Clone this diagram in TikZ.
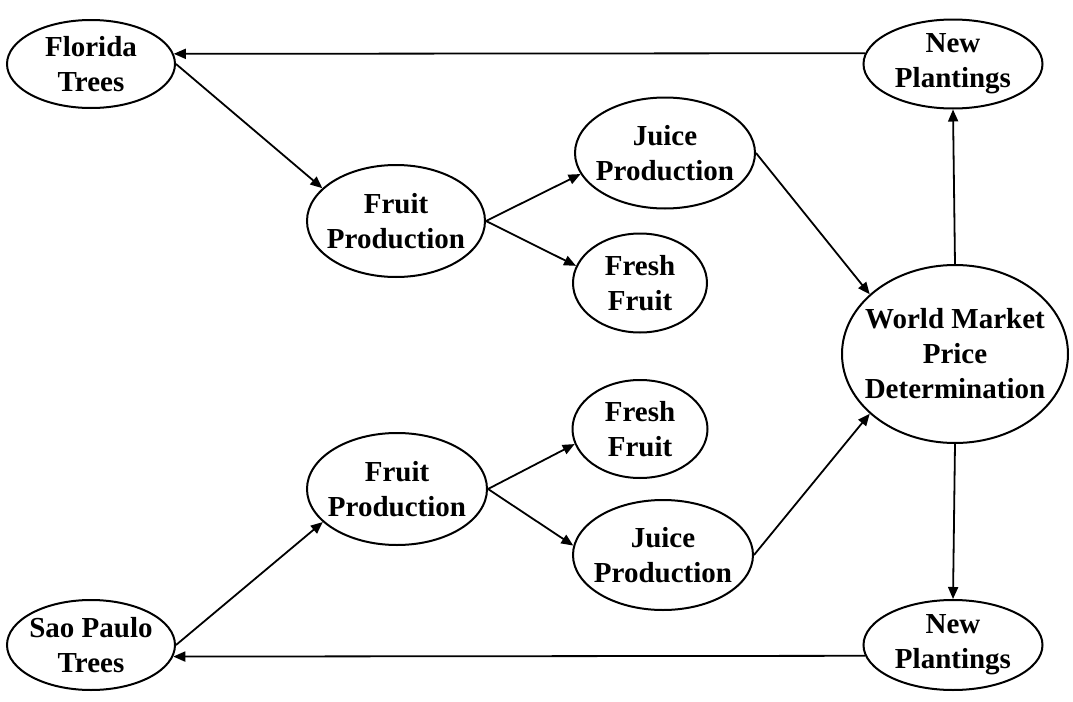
\documentclass[tikz,border=0pt]{standalone}
\usepackage{fontspec}
\setmainfont{Liberation Serif}
\usetikzlibrary{shapes.geometric,arrows.meta}
\begin{document}
\begin{tikzpicture}[x=0.5pt,y=-0.5pt,
  bub/.style={ellipse,draw,line width=1pt,inner sep=-80pt,align=center,
    font=\fontsize{14.5}{17.5}\selectfont\bfseries},
  arr/.style={line width=0.9pt,-{Triangle[length=6pt,width=5pt]}}]
\useasboundingbox (0,0) rectangle (1073,702);
\node[bub,minimum width=84pt,minimum height=44pt] (ft) at (91,64) {Florida\\Trees};
\node[bub,minimum width=89.5pt,minimum height=44.5pt] (np1) at (953,64) {New\\Plantings};
\node[bub,minimum width=89pt,minimum height=56pt] (fp1) at (396,221) {Fruit\\Production};
\node[bub,minimum width=90pt,minimum height=55.5pt] (jp1) at (665,153) {Juice\\Production};
\node[bub,minimum width=67pt,minimum height=49.5pt] (ff1) at (640,283) {Fresh\\Fruit};
\node[bub,minimum width=113pt,minimum height=89pt] (wm) at (955,354) {World Market\\Price\\Determination};
\node[bub,minimum width=67.5pt,minimum height=49pt] (ff2) at (640,429) {Fresh\\Fruit};
\node[bub,minimum width=90pt,minimum height=56pt] (fp2) at (397,489) {Fruit\\Production};
\node[bub,minimum width=90pt,minimum height=55pt] (jp2) at (663,555) {Juice\\Production};
\node[bub,minimum width=84pt,minimum height=45pt] (sp) at (91,645) {Sao Paulo\\Trees};
\node[bub,minimum width=89.5pt,minimum height=45pt] (np2) at (953,645) {New\\Plantings};

\draw[arr] (np1.173) -- (ft.7.5);
\draw[arr] (ft.east) -- (fp1.156);
\draw[arr] (fp1.east) -- (jp1.194.6);
\draw[arr] (fp1.east) -- (ff1.165);
\draw[arr] (jp1.east) -- (wm.145);
\draw[arr] (wm.north) -- (np1.south);
\draw[arr] (wm.south) -- (np2.north);
\draw[arr] (jp2.east) -- (wm.215);
\draw[arr] (sp.east) -- (fp2.204);
\draw[arr] (fp2.east) -- (ff2.193);
\draw[arr] (fp2.east) -- (jp2.174);
\draw[arr] (np2.187) -- (sp.352.5);
\end{tikzpicture}
\end{document}
